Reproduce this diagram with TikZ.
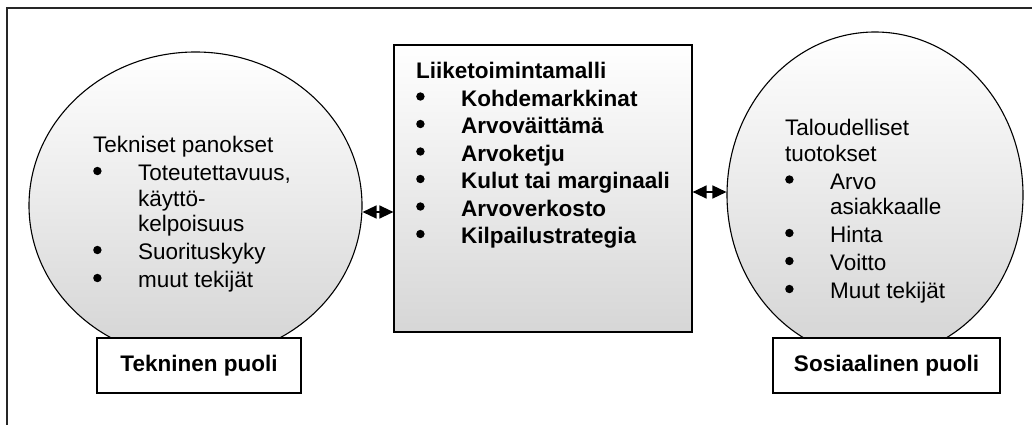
\documentclass[tikz,border=0pt]{standalone}
\usepackage{fontspec}
\setmainfont{Liberation Sans}
\usetikzlibrary{shapes.geometric,arrows.meta}

% filled list bullet, centred about 9.5pt above the baseline
\newcommand\listdot{\raisebox{5.3pt}{\begin{pgfpicture}%
  \pgfpathcircle{\pgfpoint{4.2pt}{4.2pt}}{4.2pt}\pgfusepath{fill}%
  \end{pgfpicture}}}
\newcommand\blt{\makebox[45pt][l]{\listdot}}
\newcommand\ind{\hspace*{45pt}}

\tikzset{
  frameline/.style={line width=1.3pt, draw=black!85},
  bubble/.style={ellipse, draw=black, line width=1.1pt, inner sep=0pt,
    top color=white, bottom color=black!17},
  modelbox/.style={rectangle, draw=black, line width=1.2pt, inner sep=0pt,
    top color=white, bottom color=black!16},
  sidelabel/.style={rectangle, draw=black, line width=1.2pt, fill=white,
    inner sep=0pt, font=\fontsize{22.5}{25.5}\selectfont\bfseries},
  listtext/.style={anchor=north west, inner sep=0pt, align=left,
    font=\fontsize{22.5}{25.5}\selectfont},
  twoway/.style={line width=1.4pt,
    {Triangle[length=14pt,width=13pt]}-{Triangle[length=14pt,width=13pt]}}
}

\begin{document}
\begin{tikzpicture}[x=1pt,y=-1pt]
\useasboundingbox (0,0) rectangle (1032,425);

% outer frame (top and left edges)
\draw[frameline] (1040,8) -- (7,8) -- (7,435);

% the two sides and the business model between them
\node[bubble, minimum width=333pt, minimum height=307pt] (lc) at (195.5,205.5) {};
\node[bubble, minimum width=296pt, minimum height=326pt] (rc) at (875,195) {};
\node[modelbox, minimum width=298pt, minimum height=287pt] (box) at (543,188.5) {};

\node[sidelabel, minimum width=204pt, minimum height=55pt] (ll) at (199,365.5) {Tekninen puoli};
\node[sidelabel, minimum width=227pt, minimum height=55pt] (rl) at (886.5,365.5) {Sosiaalinen puoli};

% contents
\node[listtext] (ltext) at (93,136) {Tekniset panokset\\[2.5pt]
  \blt Toteutettavuus,\\
  \ind käyttö-\\
  \ind kelpoisuus\\[2.5pt]
  \blt Suorituskyky\\[2.5pt]
  \blt muut tekijät};

\node[listtext, font=\fontsize{22.5}{25.5}\selectfont\bfseries] (btext) at (416,62) {Liiketoimintamalli\\[2pt]
  \blt Kohdemarkkinat\\[2pt]
  \blt Arvoväittämä\\[2pt]
  \blt Arvoketju\\[2pt]
  \blt Kulut tai marginaali\\[2pt]
  \blt Arvoverkosto\\[2pt]
  \blt Kilpailustrategia};

\node[listtext] (rtext) at (785,119) {Taloudelliset\\
  tuotokset\\[2.5pt]
  \blt Arvo\\
  \ind asiakkaalle\\[2.5pt]
  \blt Hinta\\[2.5pt]
  \blt Voitto\\[2.5pt]
  \blt Muut tekijät};

% two-way links
\coordinate (la) at ([yshift=-6.5pt]lc.east);
\coordinate (ra) at ([yshift=3pt]rc.west);
\draw[twoway] (la) -- (la -| box.west);
\draw[twoway] (ra -| box.east) -- (ra);
\end{tikzpicture}
\end{document}
